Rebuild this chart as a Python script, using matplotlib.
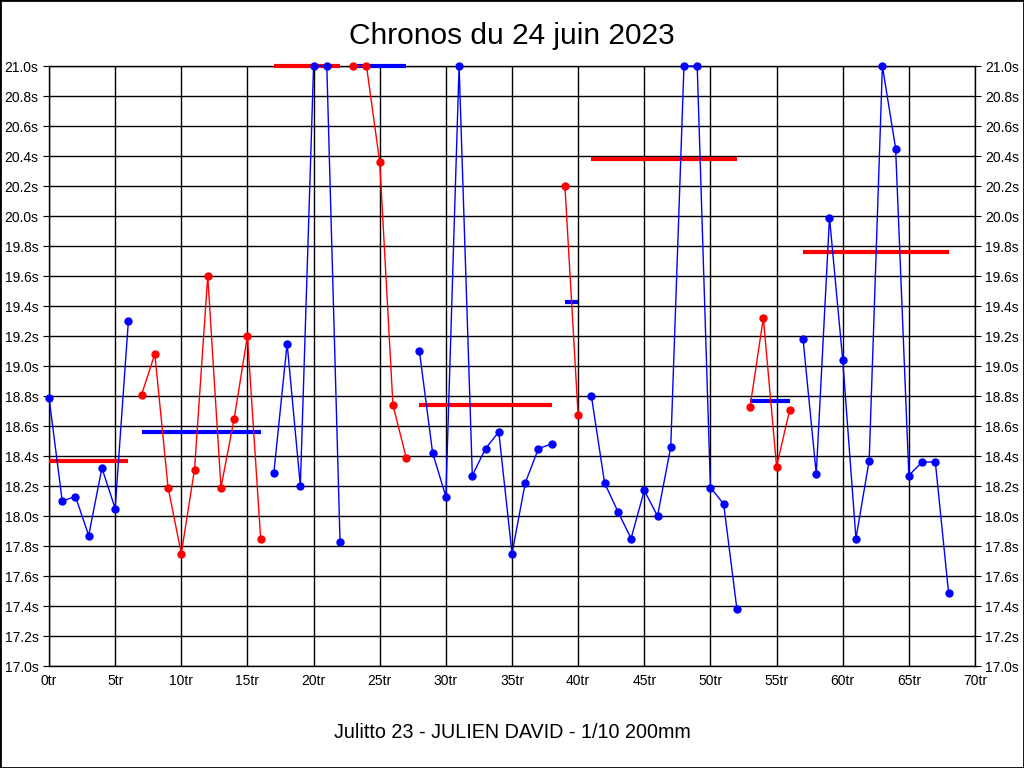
import matplotlib
matplotlib.use("Agg")
import matplotlib.pyplot as plt
from matplotlib.patches import Rectangle

plt.rcParams['font.family'] = ['Liberation Sans', 'DejaVu Sans']

# lap times per stint (lap number, seconds) - values above 21s are shown clipped at 21
stint_laps = [
    [0, 1, 2, 3, 4, 5, 6],
    [7, 8, 9, 10, 11, 12, 13, 14, 15, 16],
    [17, 18, 19, 20, 21, 22],
    [23, 24, 25, 26, 27],
    [28, 29, 30, 31, 32, 33, 34, 35, 36, 37, 38],
    [39, 40],
    [41, 42, 43, 44, 45, 46, 47, 48, 49, 50, 51, 52],
    [53, 54, 55, 56],
    [57, 58, 59, 60, 61, 62, 63, 64, 65, 66, 67, 68],
]
stint_times = [
    [18.79, 18.10, 18.13, 17.87, 18.32, 18.05, 19.30],
    [18.81, 19.08, 18.19, 17.75, 18.31, 19.60, 18.19, 18.65, 19.20, 17.85],
    [18.29, 19.15, 18.20, 21.0, 21.0, 17.83],
    [21.0, 21.0, 20.36, 18.74, 18.39],
    [19.10, 18.42, 18.13, 21.0, 18.27, 18.45, 18.56, 17.75, 18.22, 18.45, 18.48],
    [20.20, 18.67],
    [18.80, 18.22, 18.03, 17.85, 18.17, 18.00, 18.46, 21.0, 21.0, 18.19, 18.08, 17.38],
    [18.73, 19.32, 18.33, 18.71],
    [19.18, 18.28, 19.99, 19.04, 17.85, 18.37, 21.0, 20.45, 18.27, 18.36, 18.36, 17.49],
]
# stint averages (clipped at 21s)
stint_avg = [18.37, 18.56, 21.0, 21.0, 18.74, 19.43, 20.38, 18.77, 19.76]
stint_colors = ['blue', 'red', 'blue', 'red', 'blue', 'red', 'blue', 'red', 'blue']
avg_colors = ['red', 'blue', 'red', 'blue', 'red', 'blue', 'red', 'blue', 'red']

y_ticks = [17.0 + 0.2 * i for i in range(21)]
x_ticks = list(range(0, 71, 5))

fig = plt.figure(figsize=(10.24, 7.68), dpi=100)
ax = fig.add_axes([49 / 1024, 1 - 666 / 768, 926 / 1024, 600 / 768])

for laps, avg, c in zip(stint_laps, stint_avg, avg_colors):
    ax.plot([laps[0], laps[-1]], [avg, avg], color=c, lw=3, clip_on=False, zorder=3,
            solid_capstyle='butt')

for laps, times, c in zip(stint_laps, stint_times, stint_colors):
    ax.plot(laps, times, color=c, lw=1, marker='o', ms=5, clip_on=False, zorder=4)

ax.set_xlim(0, 70)
ax.set_ylim(17, 21)
ax.set_xticks(x_ticks)
ax.set_xticklabels([f"{x}tr" for x in x_ticks])
ax.set_yticks(y_ticks)
ax.set_yticklabels([f"{y:.1f}s" for y in y_ticks])
ax.grid(True, color='black', lw=1)
ax.set_axisbelow(True)
ax.tick_params(axis='y', which='both', right=True, labelright=True, length=4,
               labelsize=10, color='black')
ax.tick_params(axis='x', length=0, labelsize=10, pad=6)
for s in ax.spines.values():
    s.set_color('black')
    s.set_linewidth(1)

fig.text(0.5, 1 - 36 / 768, "Chronos du 24 juin 2023", ha='center', va='center', fontsize=21.5)
fig.text(0.5, 1 - 733 / 768, "Julitto 23 - JULIEN DAVID - 1/10 200mm", ha='center',
         va='center', fontsize=14.2)
fig.patches.append(Rectangle((0, 0), 1, 1, transform=fig.transFigure, fill=False,
                             edgecolor='black', lw=2))

fig.savefig("out.png", dpi=100)
